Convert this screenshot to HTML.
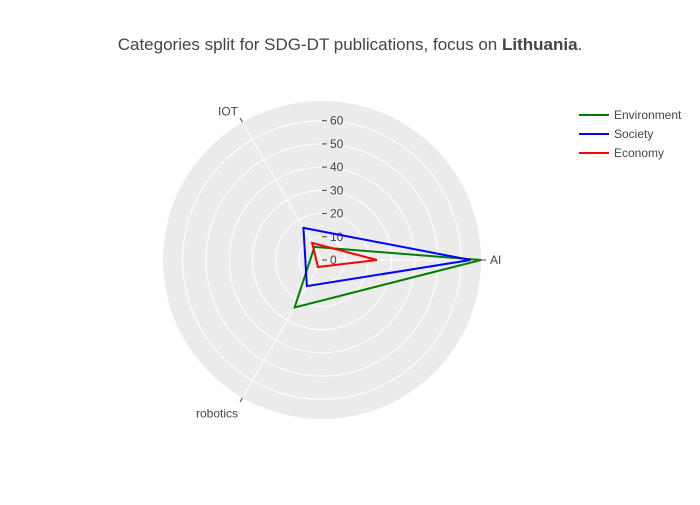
<!DOCTYPE html>
<html><head><meta charset="utf-8"><style>
body{margin:0;background:#fff;font-family:"Liberation Sans",sans-serif;}
svg text{font-family:"Liberation Sans",sans-serif;}
</style></head><body>
<svg id="c" width="700" height="500" xmlns="http://www.w3.org/2000/svg">
<text x="350" y="50" text-anchor="middle" font-size="17" fill="#444">Categories split for SDG-DT publications, focus on <tspan font-weight="bold">Lithuania</tspan>.</text>
<g id="plot"></g>
<g id="legend"></g>
</svg>
<script>
const categories = ["AI", "IOT", "robotics"];
const angles = [0, 120, 240];
const seriesNames = ["Environment", "Society", "Economy"];
const environment = [68.5, 6.5, 23.6];
const society = [64, 16, 13];
const economy = [23.7, 8.5, 3.5];
const radialTicks = [0, 10, 20, 30, 40, 50, 60];
const colors = ["green", "blue", "red"];
const NS = "http://www.w3.org/2000/svg";
const cx = 322, cy = 260, R = 159, rMax = 68.5;
const rs = v => v / rMax * R;
const px = (v, a) => cx + rs(v) * Math.cos(a * Math.PI / 180);
const py = (v, a) => cy - rs(v) * Math.sin(a * Math.PI / 180);
const plot = document.getElementById('plot');
function mk(t, attrs, parent) { const e = document.createElementNS(NS, t); for (const k in attrs) e.setAttribute(k, attrs[k]); (parent || plot).appendChild(e); return e; }
const bg = mk('circle', {cx, cy, r: R, fill: '#ebebeb'});


radialTicks.forEach(t => {
  if (t > 0) {
    const g = mk('circle', {cx, cy, r: rs(t), fill: 'none', stroke: '#fff', 'stroke-width': 1});
    
    
  }
});
angles.forEach((a, i) => {
  const l = mk('line', {x1: cx, y1: cy, x2: px(rMax, a), y2: py(rMax, a), stroke: '#fff', 'stroke-width': 1});
  
  
  const tk = mk('line', {x1: px(rMax, a), y1: py(rMax, a), x2: cx + (R + 5) * Math.cos(a * Math.PI / 180), y2: cy - (R + 5) * Math.sin(a * Math.PI / 180), stroke: '#444'});
  
  
  const lx = cx + (R + 9) * Math.cos(a * Math.PI / 180), ly = cy - (R + 9) * Math.sin(a * Math.PI / 180);
  const anchor = Math.abs(Math.cos(a * Math.PI / 180)) < 0.1 ? 'middle' : (Math.cos(a * Math.PI / 180) > 0 ? 'start' : 'end');
  const tx = mk('text', {x: lx, y: ly + (a === 120 ? 1 : a === 240 ? 12 : 4), 'text-anchor': anchor, 'font-size': 12, fill: '#444'});
  tx.textContent = categories[i];
  
  
});
radialTicks.forEach(t => {
  const y = py(t, 90);
  const tk = mk('line', {x1: cx, y1: y, x2: cx + 5, y2: y, stroke: '#444'});
  
  
  const tx = mk('text', {x: cx + 8, y: y + 4, 'font-size': 12, fill: '#444'});
  tx.textContent = t;
  
  
});
[environment, society, economy].forEach((s, i) => {
  const pts = s.map((v, j) => px(v, angles[j]) + ',' + py(v, angles[j]));
  pts.push(pts[0]);
  const pl = mk('polyline', {points: pts.join(' '), fill: 'none', stroke: colors[i], 'stroke-width': 2});
  
  
});
const lg = document.getElementById('legend');
seriesNames.forEach((n, i) => {
  const y = 115 + i * 19;
  const l = mk('line', {x1: 579, y1: y, x2: 609, y2: y, stroke: colors[i], 'stroke-width': 2}, lg);
  
  
  const t = mk('text', {x: 614, y: y + 4, 'font-size': 12, fill: '#444'}, lg);
  t.textContent = n;
  
  
});
</script>
</body></html>
